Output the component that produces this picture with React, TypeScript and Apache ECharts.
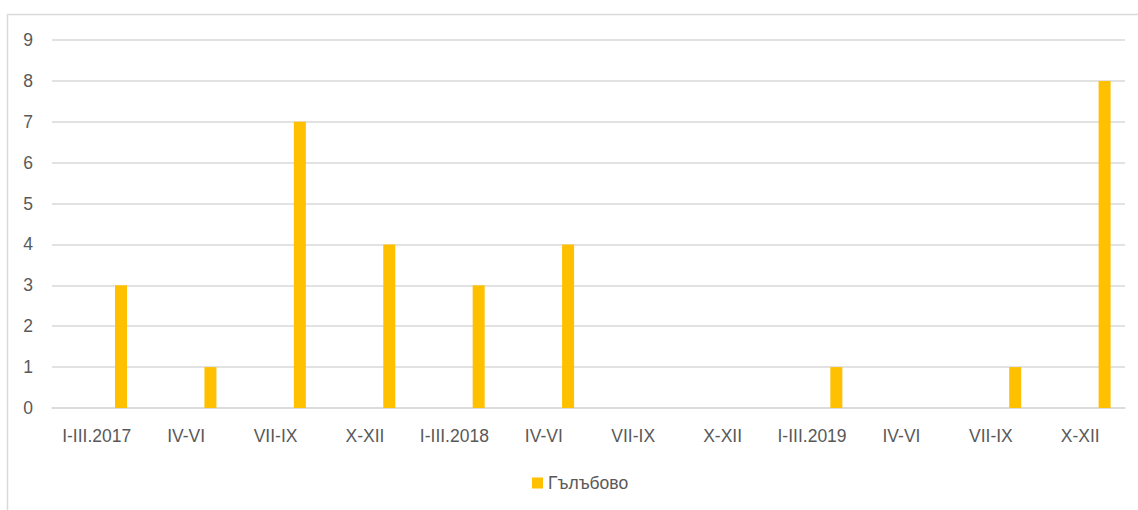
import React, { useEffect, useRef } from "react";
import * as echarts from "echarts";

const categories = [
  "I-III.2017", "IV-VI", "VII-IX", "X-XII",
  "I-III.2018", "IV-VI", "VII-IX", "X-XII",
  "I-III.2019", "IV-VI", "VII-IX", "X-XII",
];
const seriesName = "Гълъбово";
const values = [3, 1, 7, 4, 3, 4, 0, 0, 1, 0, 1, 8];
const placeholder = categories.map(() => null);

export default function App() {
  const ref = useRef<HTMLDivElement>(null);
  useEffect(() => {
    if (!ref.current) return;
    const chart = echarts.init(ref.current, null, { renderer: "svg" });
    const font = "'Liberation Sans', Arial, sans-serif";
    chart.setOption({
      animation: false,
      backgroundColor: "#ffffff",
      textStyle: { fontFamily: font },
      graphic: [
        {
          type: "rect",
          shape: { x: 7.5, y: 14.5, width: 1200, height: 600 },
          style: { fill: "none", stroke: "#d9d9d9", lineWidth: 1.5 },
          silent: true,
        },
      ],
      grid: { left: 52, right: 13, top: 40, bottom: 102, containLabel: false },
      legend: {
        data: [seriesName],
        left: 527,
        top: 469,
        itemWidth: 11,
        itemHeight: 11,
        icon: "rect",
        textStyle: { color: "#595959", fontSize: 17.5, fontFamily: font },
      },
      xAxis: {
        type: "category",
        data: categories,
        axisLine: { show: true, lineStyle: { color: "#d9d9d9", width: 1.5 } },
        axisTick: { show: false },
        axisLabel: { color: "#595959", fontSize: 17.5, margin: 19, interval: 0, fontFamily: font },
      },
      yAxis: {
        type: "value",
        min: 0,
        max: 9,
        interval: 1,
        axisLine: { show: false },
        axisTick: { show: false },
        splitLine: { lineStyle: { color: "#d9d9d9", width: 1.5 } },
        axisLabel: { color: "#595959", fontSize: 17.5, margin: 19, fontFamily: font },
      },
      series: [
        {
          name: "_placeholder",
          type: "bar",
          data: placeholder,
          barWidth: 12,
          barGap: "305%",
          itemStyle: { color: "transparent" },
        },
        {
          name: seriesName,
          type: "bar",
          data: values,
          barWidth: 12,
          barGap: "305%",
          itemStyle: { color: "#FFC000" },
        },
      ],
    });
    return () => chart.dispose();
  }, []);
  return (
    <div
      ref={ref}
      style={{ position: "absolute", left: 0, top: 0, width: 1138, height: 510 }}
    />
  );
}
